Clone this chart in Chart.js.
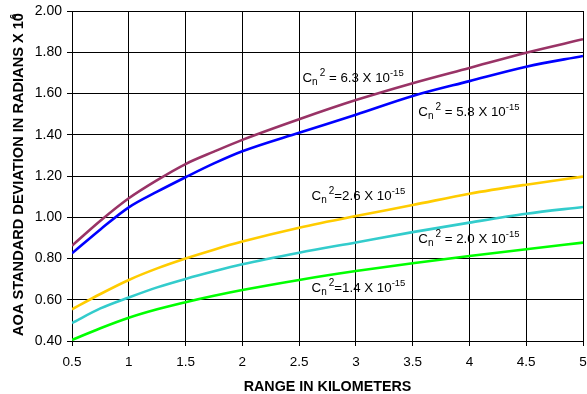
<!DOCTYPE html>
<html>
<head>
<meta charset="utf-8">
<script src="https://cdn.jsdelivr.net/npm/chart.js@4/dist/chart.umd.min.js"></script>
<style>
  html, body { margin: 0; padding: 0; background: #fff; }
  #chart { display: block; }
</style>
</head>
<body>
<canvas id="chart" width="587" height="394"></canvas>
<script>
// Range in km (x axis)
const rangeKm = [0.5, 0.75, 1, 1.25, 1.5, 1.75, 2, 2.5, 3, 3.5, 4, 4.5, 5];

// AOA standard deviation (radians x 10^-6) per Cn^2 value
const cn63 = [0.862, 0.983, 1.092, 1.180, 1.258, 1.318, 1.375, 1.475, 1.568, 1.650, 1.724, 1.798, 1.863];
const cn58 = [0.825, 0.941, 1.048, 1.124, 1.194, 1.261, 1.320, 1.410, 1.497, 1.588, 1.660, 1.730, 1.782];
const cn26 = [0.554, 0.628, 0.696, 0.752, 0.800, 0.843, 0.882, 0.949, 1.006, 1.059, 1.114, 1.158, 1.197];
const cn20 = [0.487, 0.558, 0.611, 0.660, 0.701, 0.738, 0.772, 0.828, 0.878, 0.928, 0.974, 1.017, 1.050];
const cn14 = [0.405, 0.462, 0.513, 0.554, 0.588, 0.619, 0.647, 0.696, 0.739, 0.777, 0.812, 0.845, 0.877];

const xTicks = [0.5, 1, 1.5, 2, 2.5, 3, 3.5, 4, 4.5, 5];
const yTicks = [0.4, 0.6, 0.8, 1.0, 1.2, 1.4, 1.6, 1.8, 2.0];

// curve labels: [coefficient text, separator, x (km), y (value at baseline)]
const curveLabels = [
  ["6.3", " = ", 2.53, 1.654],
  ["5.8", " = ", 3.55, 1.492],
  ["2.6", "=", 2.61, 1.084],
  ["2.0", " = ", 3.55, 0.874],
  ["1.4", "=", 2.61, 0.639]
];

const FONT = "Arial, 'Liberation Sans', sans-serif";

const series = [
  { data: cn63, color: "#993366" },
  { data: cn58, color: "#0000FF" },
  { data: cn26, color: "#FFCC00" },
  { data: cn20, color: "#33CCCC" },
  { data: cn14, color: "#00FF00" }
];

const drawCn = (ctx, x, y, coef, sep) => {
  ctx.fillStyle = "#000";
  ctx.textBaseline = "alphabetic";
  ctx.textAlign = "left";
  ctx.font = "13.3px " + FONT;
  ctx.fillText("C", x, y);
  x += ctx.measureText("C").width;
  ctx.font = "10px " + FONT;
  ctx.fillText("n", x, y + 3);
  x += ctx.measureText("n").width + 2;
  ctx.fillText("2", x, y - 6);
  x += ctx.measureText("2").width;
  ctx.font = "13.3px " + FONT;
  const main = sep + coef + " X 10";
  ctx.fillText(main, x, y);
  x += ctx.measureText(main).width;
  ctx.font = "9.5px " + FONT;
  ctx.fillText("-15", x, y - 6);
};

const labelsPlugin = {
  id: "labels",
  afterDraw(chart) {
    const { ctx, scales } = chart;
    ctx.save();
    curveLabels.forEach(([coef, sep, kx, ky]) => {
      drawCn(ctx, scales.x.getPixelForValue(kx), scales.y.getPixelForValue(ky), coef, sep);
    });

    // axis titles
    ctx.fillStyle = "#000";
    ctx.font = "bold 14.3px " + FONT;
    ctx.textAlign = "center";
    ctx.textBaseline = "middle";
    const area = chart.chartArea;
    ctx.fillText("RANGE IN KILOMETERS", (area.left + area.right) / 2, 387);

    ctx.font = "bold 14.6px " + FONT;
    ctx.translate(19, 336);
    ctx.rotate(-Math.PI / 2);
    ctx.textAlign = "left";
    const yTitle = "AOA STANDARD DEVIATION IN RADIANS X 10";
    ctx.fillText(yTitle, 0, 0);
    const w = ctx.measureText(yTitle).width;
    ctx.font = "bold 9px " + FONT;
    ctx.fillText("6", w - 6, -5);
    ctx.restore();
  }
};

new Chart(document.getElementById("chart"), {
  type: "line",
  data: {
    labels: rangeKm,
    datasets: series.map(s => ({
      data: s.data.map((v, i) => ({ x: rangeKm[i], y: v })),
      borderColor: s.color,
      borderWidth: 2.6,
      pointRadius: 0,
      fill: false,
      cubicInterpolationMode: "monotone"
    }))
  },
  options: {
    responsive: false,
    animation: false,
    layout: { padding: { top: 11, right: 4, left: 0, bottom: 0 } },
    plugins: { legend: { display: false }, tooltip: { enabled: false } },
    scales: {
      x: {
        type: "linear",
        min: 0.5,
        max: 5,
        afterBuildTicks: scale => { scale.ticks = xTicks.map(v => ({ value: v })); },
        afterFit: scale => {
          scale.height = 53;
          scale.paddingLeft = 0;
          scale.paddingRight = 0;
        },
        ticks: {
          color: "#000",
          font: { size: 13.5, family: FONT },
          padding: 8,
          maxRotation: 0,
          callback: v => String(v)
        },
        grid: { color: "#000", lineWidth: 1, tickLength: 5 },
        border: { color: "#000", width: 1 }
      },
      y: {
        min: 0.4,
        max: 2.0,
        afterBuildTicks: scale => { scale.ticks = yTicks.map(v => ({ value: v })); },
        afterFit: scale => {
          scale.width = 72;
          scale.paddingTop = 0;
          scale.paddingBottom = 0;
        },
        ticks: {
          color: "#000",
          font: { size: 14, family: FONT },
          padding: 5,
          callback: v => v.toFixed(2)
        },
        grid: { color: "#000", lineWidth: 1, tickLength: 5 },
        border: { color: "#000", width: 1 }
      }
    }
  },
  plugins: [labelsPlugin]
});
</script>
</body>
</html>
